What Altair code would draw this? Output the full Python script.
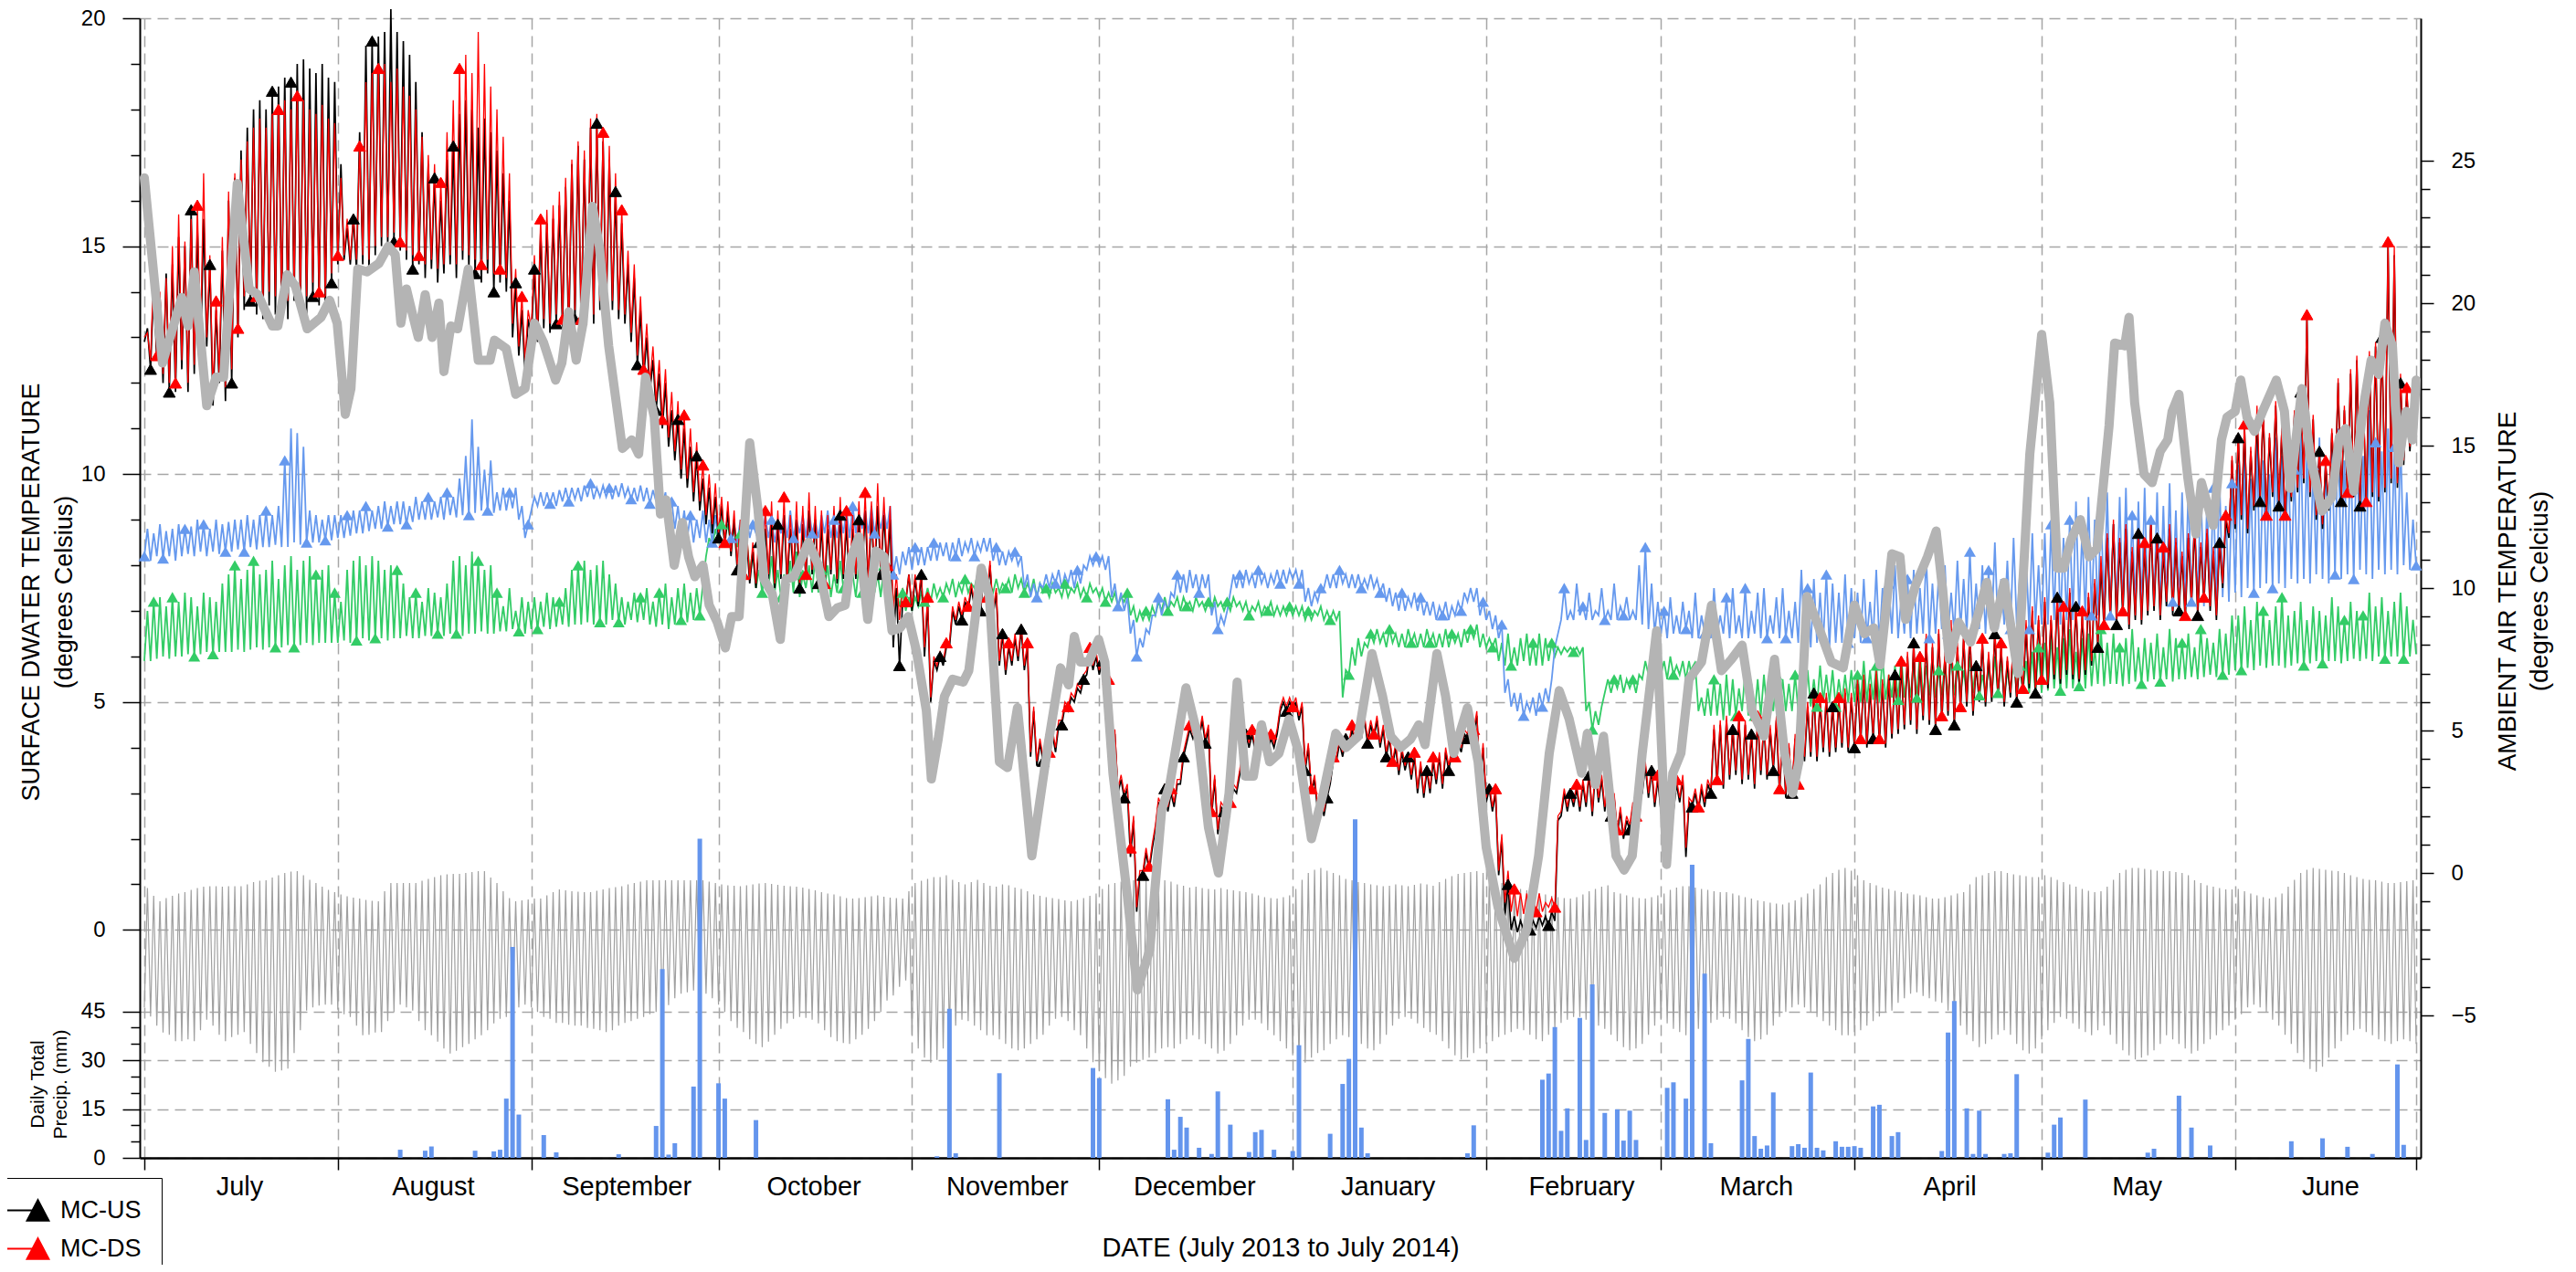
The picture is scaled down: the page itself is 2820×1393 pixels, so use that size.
import altair as alt
import pandas as pd

# ---------------- categories / axis labels ----------------
MONTHS = ["July", "August", "September", "October", "November", "December",
          "January", "February", "March", "April", "May", "June"]
MONTH_START = [0, 31, 62, 92, 123, 153, 184, 215, 243, 274, 304, 335]  # day index from 1 July 2013
LAST_DAY = 364

# ---------------- MC-US (black) daily low / high, per month ----------------
BLACK_LO = [
    [12.9,12.3,12.5,12.0,11.8,11.8,12.3,11.8,12.2,12.6,12.8,11.5,12.0,11.6,12.0,13.0,13.6,13.8,13.5,13.4,13.7,13.5,13.6,13.4,13.8,13.6,13.5,13.9,13.7,13.6,14.2],
    [14.6,14.7,14.6,14.5,14.6,14.5,14.8,15.0,15.0,15.1,14.9,14.7,14.5,14.6,14.3,14.5,14.2,14.4,14.6,14.3,14.7,14.5,14.4,14.2,14.4,14.0,14.2,14.0,13.0,12.6,12.2],
    [13.0,12.9,13.2,13.1,13.3,13.2,13.0,13.4,13.2,13.5,13.3,13.6,13.4,13.6,13.4,13.3,12.9,12.4,12.1,11.8,11.4,11.0,10.6,10.3,9.9,9.7,9.4,9.2,8.9,8.7],
    [8.6,8.4,8.2,7.9,7.7,7.6,7.5,7.6,7.7,7.5,7.7,7.6,7.8,7.5,7.7,7.8,7.6,7.5,7.8,7.6,7.7,7.5,7.7,7.8,7.6,7.7,7.8,7.9,6.2,5.8,7.2],
    [7.0,7.1,6.0,5.0,5.7,5.8,6.2,6.7,6.8,7.0,7.1,7.0,7.2,6.9,5.8,5.6,5.8,5.9,5.7,3.8,3.6,3.7,3.8,3.9,4.5,4.8,5.0,5.2,5.6,5.7],
    [5.6,5.0,3.4,3.0,2.9,1.6,0.4,1.2,1.3,2.2,2.6,2.6,2.7,3.2,4.1,4.2,4.2,4.1,2.5,2.1,2.6,2.7,3.0,3.9,4.0,3.9,4.0,3.9,4.0,4.8,4.8],
    [4.8,4.6,3.5,3.0,2.6,2.5,3.2,3.7,3.8,4.0,4.1,4.2,4.1,4.2,4.0,3.8,3.6,3.4,3.5,3.3,3.0,2.9,3.0,3.2,3.1,3.5,3.7,3.9,4.2,4.3,3.2],
    [2.8,2.6,1.2,0.3,0.0,-0.05,0.0,0.0,0.05,0.1,0.1,0.2,2.5,2.6,2.7,2.6,2.7,2.5,2.8,2.6,2.5,2.1,2.0,2.2,2.4,3.0,2.9,2.7],
    [2.6,2.7,2.6,2.8,1.6,2.7,2.6,2.7,3.0,3.2,3.1,3.3,3.4,3.2,3.3,3.1,3.4,3.3,3.5,3.0,2.9,3.0,3.1,3.7,3.8,3.7,3.9,3.8,3.9,4.0,3.9],
    [4.0,4.1,4.0,4.2,4.1,4.0,4.2,4.3,4.4,4.5,4.3,4.6,4.5,4.4,4.6,4.7,4.5,4.8,4.9,4.7,5.0,4.9,5.0,5.1,4.9,5.1,5.0,5.2,5.3,5.2],
    [5.4,5.3,5.5,5.4,5.6,5.5,5.4,5.6,5.8,6.2,6.6,6.8,6.7,6.9,6.6,6.8,6.7,6.9,7.0,6.8,7.1,6.9,7.0,6.8,7.1,6.9,7.2,7.0,6.8,7.5,8.6],
    [8.8,9.0,8.7,9.2,9.4,9.0,9.5,9.3,9.0,9.4,9.6,9.8,9.5,9.0,8.8,9.2,9.6,9.4,9.5,9.5,9.3,9.3,9.5,9.4,9.6,9.8,9.7,10.2,10.5,10.8],
]
BLACK_HI = [
    [13.2,14.2,13.9,14.4,14.6,15.2,15.0,15.8,15.4,15.6,14.6,13.6,14.9,16.0,16.5,17.1,17.6,18.0,18.2,18.0,18.4,18.5,18.7,18.6,19.0,19.1,18.9,18.8,19.0,18.7,18.6],
    [16.8,15.4,15.6,17.5,19.4,19.5,19.6,19.7,20.2,19.7,19.5,19.2,18.6,17.5,16.8,16.5,16.0,16.9,17.2,17.9,18.2,18.0,17.6,17.8,17.5,17.1,16.6,16.0,14.2,13.6,13.4],
    [14.5,15.3,15.5,15.6,15.9,16.3,16.8,17.2,16.9,17.6,17.7,17.3,16.9,16.2,15.5,14.6,14.3,13.6,13.0,12.5,12.2,12.0,11.4,11.2,11.0,10.6,10.4,9.9,9.7,9.5],
    [9.3,9.2,9.0,8.8,8.6,8.3,8.5,8.8,9.0,8.9,9.1,8.8,9.0,8.9,9.2,9.0,8.9,8.8,9.0,9.1,8.9,8.8,9.0,9.2,9.1,9.3,9.1,9.0,7.5,7.2,7.8],
    [7.7,7.8,7.2,5.9,6.0,6.2,7.0,7.1,7.2,7.5,7.6,7.8,8.0,7.4,6.5,6.2,6.4,6.6,6.2,4.8,4.1,4.2,4.3,4.5,4.9,5.1,5.3,5.5,6.1,6.0],
    [5.9,5.4,4.3,3.3,3.1,2.4,1.2,1.7,1.8,2.8,3.1,3.0,3.2,3.8,4.4,4.5,4.6,4.4,3.3,2.7,3.1,3.1,3.4,4.3,4.3,4.2,4.3,4.2,4.3,5.0,5.0],
    [5.0,4.9,4.0,3.3,3.0,2.9,3.7,4.1,4.2,4.4,4.5,4.6,4.5,4.6,4.4,4.2,4.0,3.9,3.8,3.8,3.6,3.5,3.7,3.8,3.9,3.9,4.1,4.3,4.6,4.7,4.0],
    [3.1,3.0,2.0,1.0,0.3,0.2,0.2,0.2,0.3,0.3,0.4,2.4,3.0,3.0,3.1,3.2,3.4,3.5,3.3,3.2,2.9,2.6,2.4,2.7,3.0,3.6,3.5,3.3],
    [3.2,3.1,3.2,3.3,2.8,3.0,3.1,3.2,4.4,4.5,4.6,4.4,4.6,4.5,4.3,4.6,4.5,4.4,4.6,4.3,4.0,4.2,4.4,4.9,5.2,5.0,5.1,4.9,5.0,5.2,5.1],
    [5.4,5.5,5.3,5.6,5.4,5.5,5.6,5.8,6.0,6.3,5.9,6.4,6.2,6.5,6.0,6.6,6.2,6.4,6.5,5.8,6.3,6.0,6.5,6.2,5.9,6.4,6.0,6.6,7.0,6.8],
    [7.2,6.8,7.3,7.0,7.4,7.1,6.9,7.3,7.6,8.0,8.6,8.9,8.5,8.8,8.3,8.7,8.4,8.9,8.6,8.3,8.8,8.5,8.2,8.6,8.9,8.4,8.7,8.3,8.5,9.0,10.3],
    [10.8,11.0,10.5,11.2,11.4,10.8,11.5,11.0,10.6,11.3,11.8,13.4,11.2,10.5,10.2,10.9,12.0,11.4,12.2,12.5,11.8,12.6,12.8,13.0,15.0,14.8,12.0,11.8,11.6,11.3],
]

# ---------------- MC-DS (red) daily low / high ----------------
RED_LO = [
    [13.0,12.5,12.6,12.2,12.0,12.0,12.5,12.0,12.4,12.8,13.0,11.8,12.2,11.9,12.3,13.2,13.9,14.1,13.9,13.8,14.0,13.9,14.0,13.8,14.1,14.0,13.9,14.2,14.0,13.9,14.4],
    [14.8,14.8,14.7,14.7,14.8,14.7,15.0,15.2,15.2,15.3,15.1,14.9,14.8,14.8,14.6,14.7,14.5,14.6,14.8,14.6,14.9,14.8,14.7,14.6,14.7,14.4,14.5,14.3,13.3,12.8,12.5],
    [13.2,13.1,13.4,13.3,13.5,13.4,13.2,13.6,13.4,13.7,13.5,13.8,13.6,13.8,13.6,13.5,13.1,12.6,12.3,12.0,11.6,11.2,10.8,10.5,10.1,9.9,9.6,9.4,9.1,8.9],
    [8.7,8.5,8.3,8.0,7.8,7.7,7.6,7.7,7.8,7.6,7.8,7.7,7.9,7.6,7.8,7.9,7.7,7.6,7.9,7.7,7.8,7.6,7.8,7.9,7.7,7.8,7.9,8.0,7.0,6.8,7.2],
    [7.1,7.2,6.2,5.1,5.8,5.9,6.3,6.8,6.9,7.1,7.2,7.1,7.3,7.0,5.9,5.7,5.9,6.0,5.8,3.9,3.7,3.8,3.9,4.0,4.6,4.9,5.1,5.3,5.7,5.8],
    [5.7,5.1,3.5,3.1,3.0,1.8,0.5,1.3,1.4,2.3,2.7,2.7,2.8,3.3,4.2,4.3,4.3,4.2,2.6,2.2,2.7,2.8,3.1,4.0,4.1,4.0,4.1,4.0,4.1,4.9,4.9],
    [4.9,4.7,3.6,3.1,2.7,2.6,3.3,3.8,3.9,4.1,4.2,4.3,4.2,4.3,4.1,3.9,3.7,3.5,3.6,3.4,3.1,3.0,3.1,3.3,3.2,3.6,3.8,4.0,4.3,4.4,3.3],
    [2.9,2.7,1.3,0.6,0.4,0.3,0.35,0.3,0.4,0.4,0.5,0.5,2.6,2.7,2.8,2.7,2.8,2.6,2.9,2.7,2.6,2.2,2.1,2.3,2.5,3.1,3.0,2.8],
    [2.7,2.8,2.7,2.9,1.8,2.8,2.7,2.8,3.1,3.3,3.2,3.4,3.5,3.3,3.4,3.2,3.5,3.4,3.6,3.1,3.0,3.1,3.2,3.8,3.9,3.8,4.0,3.9,4.0,4.1,4.0],
    [4.1,4.2,4.1,4.3,4.2,4.1,4.3,4.4,4.5,4.6,4.4,4.7,4.6,4.5,4.7,4.8,4.6,4.9,5.0,4.8,5.1,5.0,5.1,5.2,5.0,5.2,5.1,5.3,5.4,5.3],
    [5.5,5.4,5.6,5.5,5.7,5.6,5.5,5.7,5.9,6.3,6.7,6.9,6.8,7.0,6.7,6.9,6.8,7.0,7.1,6.9,7.2,7.0,7.1,6.9,7.2,7.0,7.3,7.1,6.9,7.6,8.7],
    [8.9,9.1,8.8,9.3,9.5,9.1,9.6,9.4,9.1,9.5,9.7,9.9,9.6,9.1,8.9,9.3,9.7,9.5,9.6,9.6,9.4,9.4,9.6,9.5,9.7,9.9,9.8,10.3,10.6,10.9],
]
RED_HI = [
    [13.1,14.5,14.0,14.3,15.0,15.7,15.1,15.6,15.9,16.6,14.8,13.8,15.2,16.2,16.6,16.9,17.3,17.6,17.8,17.6,17.9,18.0,18.2,18.0,18.3,18.2,18.0,17.9,18.1,17.8,17.7],
    [16.5,15.6,15.7,17.2,18.6,18.8,18.9,19.0,18.6,18.9,18.5,18.3,18.0,17.4,17.0,16.8,16.4,17.5,18.2,18.9,19.2,18.8,19.7,19.0,18.5,18.0,17.4,16.6,14.5,13.9,13.6],
    [14.8,15.6,15.8,15.9,16.2,16.5,16.9,17.3,17.1,17.8,17.9,17.5,17.2,16.6,15.8,14.9,14.6,13.9,13.3,12.8,12.5,12.3,11.8,11.6,11.3,11.0,10.7,10.2,10.0,9.8],
    [9.5,9.4,9.2,9.0,8.8,8.5,8.8,9.2,9.4,9.2,9.5,9.1,9.4,9.3,9.6,9.3,9.2,9.1,9.3,9.5,9.2,9.1,9.4,9.6,9.4,9.8,9.5,9.3,7.8,7.5,7.8],
    [7.8,7.9,7.3,6.0,6.1,6.3,7.1,7.2,7.3,7.6,7.7,7.9,8.1,7.5,6.6,6.3,6.5,6.7,6.3,4.9,4.2,4.3,4.4,4.6,5.0,5.2,5.4,5.6,6.2,6.1],
    [6.0,5.5,4.4,3.4,3.2,2.5,1.3,1.8,1.9,2.9,3.2,3.1,3.3,3.9,4.5,4.6,4.7,4.5,3.4,2.8,3.2,3.2,3.5,4.4,4.4,4.3,4.4,4.3,4.4,5.1,5.1],
    [5.1,5.0,4.1,3.4,3.1,3.0,3.8,4.2,4.3,4.5,4.6,4.7,4.6,4.7,4.5,4.3,4.1,4.0,3.9,3.9,3.7,3.6,3.8,3.9,4.0,4.0,4.2,4.4,4.7,4.8,4.1],
    [3.2,3.1,2.1,1.3,0.9,0.8,0.8,0.7,0.8,0.6,0.7,2.5,3.1,3.1,3.2,3.3,3.5,3.6,3.4,3.3,3.0,2.7,2.5,2.8,3.1,3.7,3.6,3.4],
    [3.3,3.2,3.3,3.4,2.9,3.1,3.2,3.3,4.5,4.6,4.7,4.5,4.7,4.6,4.4,4.7,4.6,4.5,4.7,4.4,4.1,4.3,4.5,5.0,5.3,5.1,5.2,5.0,5.1,5.3,5.2],
    [5.5,5.6,5.4,5.7,5.5,5.6,5.7,5.9,6.1,6.4,6.0,6.5,6.3,6.6,6.1,6.8,6.3,6.5,6.6,5.9,6.4,6.1,6.6,6.3,6.0,6.5,6.1,6.8,7.1,6.9],
    [7.3,6.9,7.4,7.1,7.5,7.2,7.0,7.4,7.7,8.2,8.7,9.0,8.6,8.9,8.4,8.8,8.5,9.0,8.7,8.4,8.9,8.6,8.3,8.7,9.0,8.5,8.8,8.4,8.6,9.1,10.4],
    [10.9,11.1,10.6,11.5,11.5,10.9,11.6,11.1,10.7,11.4,11.9,13.5,11.3,10.6,10.3,11.0,12.1,11.5,12.3,12.6,11.9,12.7,12.9,13.1,15.1,15.0,12.2,11.9,11.7,11.4],
]

# ---------------- blue site daily low / high ----------------
BLUE_LO = [
    [8.2,8.1,8.2,8.15,8.2,8.1,8.2,8.25,8.2,8.3,8.2,8.3,8.25,8.3,8.3,8.35,8.3,8.4,8.35,8.4,8.4,8.45,8.4,8.4,8.5,8.45,8.5,8.5,8.5,8.55,8.55],
    [8.6,8.6,8.65,8.7,8.7,8.75,8.8,8.8,8.85,8.9,8.9,8.9,8.95,9.0,9.0,9.0,9.05,9.0,9.1,9.05,9.1,9.1,9.15,9.2,9.2,9.15,9.2,9.2,9.25,9.0,8.6],
    [9.2,9.3,9.3,9.35,9.3,9.4,9.4,9.45,9.4,9.5,9.45,9.5,9.5,9.45,9.5,9.5,9.45,9.4,9.4,9.35,9.4,9.3,9.0,8.8,8.7,8.6,8.5,8.6,8.5,8.5],
    [8.5,8.6,8.6,8.5,8.6,8.6,8.7,8.6,8.6,8.5,8.7,8.6,8.6,8.7,8.6,8.7,8.6,8.7,8.6,8.6,8.7,8.6,8.7,8.8,8.7,8.7,8.8,8.8,7.8,7.8,8.0],
    [7.9,8.0,8.0,8.1,8.1,8.2,8.1,8.2,8.2,8.3,8.2,8.3,8.3,8.1,8.0,8.0,8.1,8.0,7.5,7.3,7.3,7.5,7.5,7.6,7.5,7.6,7.5,7.6,7.9,8.0],
    [8.0,7.9,7.3,7.1,7.0,6.5,6.0,6.2,6.5,6.9,6.9,7.0,7.3,7.4,7.4,7.5,7.4,7.5,6.9,6.6,6.7,7.4,7.5,7.5,7.6,7.5,7.6,7.5,7.6,7.6,7.6],
    [7.7,7.6,7.2,7.1,7.2,7.5,7.5,7.5,7.6,7.5,7.5,7.5,7.5,7.5,7.4,7.2,7.1,7.0,7.0,7.1,7.0,6.9,6.9,6.8,6.9,6.8,6.9,7.0,7.2,7.2,6.9],
    [6.8,6.6,6.4,5.2,4.9,4.8,4.7,4.8,4.7,4.9,5.0,6.2,6.8,6.8,6.8,6.9,6.8,6.8,6.9,6.8,6.8,6.8,6.9,6.8,6.8,6.7,6.6,6.5],
    [6.5,6.4,6.5,6.5,6.6,6.4,6.4,6.5,6.4,6.5,6.5,6.4,6.5,6.4,6.4,6.5,6.4,6.4,6.5,6.4,6.4,6.4,6.3,6.3,6.2,6.3,6.3,6.2,6.3,6.3,6.3],
    [6.4,6.3,6.4,6.4,6.3,6.4,6.5,6.4,6.5,6.4,6.5,6.5,6.4,6.5,6.6,6.5,6.5,6.6,6.5,6.6,6.6,6.5,6.6,6.6,6.7,6.6,6.7,6.7,6.6,6.7],
    [6.7,6.7,6.8,6.7,6.8,6.8,6.9,6.8,6.9,6.9,7.0,6.9,7.0,7.0,7.0,7.1,7.0,7.1,7.1,7.0,7.1,7.2,7.1,7.1,7.2,7.2,7.1,7.2,7.2,7.3,7.2],
    [7.4,7.3,7.5,7.4,7.5,7.6,7.5,7.6,7.5,7.7,7.6,7.7,7.6,7.8,7.7,7.6,7.8,7.7,7.8,7.7,7.9,7.8,7.7,7.9,7.8,7.9,7.8,8.0,7.9,8.0],
]
BLUE_HI = [
    [8.8,8.7,8.9,8.75,8.8,8.9,8.8,8.85,9.0,8.9,8.8,9.0,8.9,8.95,9.0,9.0,9.1,9.0,9.1,9.2,9.1,9.3,10.3,11.0,10.9,10.6,9.2,9.1,9.0,9.1,9.1],
    [9.1,9.1,9.2,9.2,9.3,9.2,9.3,9.4,9.3,9.4,9.4,9.3,9.5,9.4,9.5,9.4,9.5,9.6,9.5,9.9,10.4,11.2,10.6,10.1,10.3,9.6,9.7,9.6,9.7,9.3,8.9],
    [9.5,9.6,9.6,9.6,9.65,9.7,9.7,9.7,9.75,9.8,9.7,9.75,9.7,9.75,9.8,9.7,9.7,9.75,9.7,9.65,9.7,9.6,9.4,9.3,9.2,9.1,9.0,9.2,9.0,9.1],
    [9.0,9.1,8.9,9.0,9.1,8.9,9.0,9.1,9.0,8.9,9.1,9.2,9.0,9.1,9.2,9.0,9.1,9.2,9.0,9.1,9.2,9.3,9.1,9.2,9.3,9.1,9.2,9.3,8.2,8.3,8.4],
    [8.4,8.4,8.4,8.5,8.5,8.5,8.5,8.6,8.5,8.6,8.5,8.6,8.6,8.4,8.3,8.3,8.3,8.2,7.8,7.6,7.6,7.8,7.8,7.9,7.8,7.9,7.9,8.0,8.2,8.2],
    [8.2,8.2,7.6,7.4,7.3,6.8,6.4,6.6,6.9,7.3,7.2,7.4,7.8,7.8,7.9,7.8,7.8,7.8,7.2,6.9,7.0,7.8,7.8,7.9,7.8,7.9,7.8,7.8,7.9,7.9,7.9],
    [7.9,7.9,7.5,7.4,7.5,7.8,7.8,7.9,7.8,7.8,7.8,7.7,7.8,7.7,7.6,7.5,7.4,7.4,7.3,7.4,7.3,7.2,7.2,7.1,7.2,7.1,7.2,7.4,7.5,7.5,7.2],
    [7.0,6.9,6.7,5.5,5.2,5.2,5.0,5.1,5.2,5.3,5.5,6.5,7.5,7.0,7.6,7.1,7.4,7.0,7.5,7.0,7.6,7.1,7.3,7.0,8.0,8.4,7.6,7.2],
    [7.0,7.3,6.9,7.2,7.0,7.4,6.9,7.0,7.5,6.9,7.3,7.5,6.9,7.5,7.0,7.4,7.5,6.9,7.3,7.5,7.0,7.2,7.9,7.5,7.7,7.4,7.8,7.6,7.4,7.8,7.5],
    [7.4,7.7,7.2,7.9,7.5,7.6,8.0,7.3,7.7,7.9,7.5,8.2,7.6,7.8,8.0,7.4,8.1,7.7,8.3,7.6,8.0,7.9,8.5,7.7,8.1,8.6,7.8,8.2,8.7,8.0],
    [8.7,8.9,9.2,8.6,9.0,9.4,8.8,9.5,9.0,9.3,9.6,8.9,9.5,9.7,9.1,9.4,9.7,9.0,9.6,9.3,9.8,9.2,9.6,9.7,9.1,9.8,9.4,9.7,9.9,9.3,9.8],
    [10.2,10.5,9.9,10.7,10.3,10.0,10.8,10.4,10.6,10.1,10.9,10.5,10.2,10.8,10.4,10.7,11.0,10.3,10.6,10.9,10.4,11.4,10.7,10.5,11.0,10.6,10.8,9.6,9.0,8.9],
]

# ---------------- green site daily low / high ----------------
GREEN_LO = [
    [5.9,5.9,5.95,6.0,5.95,6.0,6.0,6.05,6.0,6.05,6.1,6.05,6.1,6.1,6.1,6.15,6.1,6.15,6.2,6.15,6.2,6.2,6.2,6.25,6.2,6.25,6.3,6.25,6.3,6.3,6.3],
    [6.3,6.35,6.3,6.35,6.4,6.35,6.4,6.4,6.35,6.4,6.4,6.45,6.4,6.4,6.45,6.45,6.5,6.45,6.5,6.5,6.45,6.5,6.5,6.55,6.5,6.5,6.55,6.55,6.6,6.55,6.5],
    [6.6,6.6,6.65,6.6,6.65,6.7,6.65,6.7,6.7,6.75,6.7,6.75,6.7,6.8,6.75,6.7,6.8,6.75,6.8,6.7,6.65,6.7,6.6,6.7,6.8,6.75,6.8,6.9,8.2,8.4],
    [8.5,8.6,8.5,8.4,8.3,7.9,7.5,7.4,7.5,7.4,7.3,7.5,7.4,7.3,7.5,7.4,7.4,7.5,7.3,7.4,7.5,7.4,7.3,7.4,7.5,7.4,7.3,7.4,7.2,7.1,7.0],
    [7.0,7.1,7.2,7.2,7.3,7.3,7.4,7.3,7.4,7.4,7.5,7.4,7.5,7.4,7.4,7.5,7.4,7.5,7.4,7.4,7.3,7.4,7.3,7.4,7.3,7.3,7.4,7.3,7.3,7.4],
    [7.3,7.2,7.2,7.1,7.2,6.9,6.75,6.8,6.8,6.9,7.0,7.0,7.1,7.0,7.1,7.0,7.1,7.0,7.0,7.1,7.0,7.0,7.1,7.0,6.9,7.0,6.9,7.0,6.9,6.9,6.9],
    [6.9,6.9,6.8,6.8,6.9,6.8,6.8,6.8,5.1,5.6,5.8,6.0,6.2,6.3,6.3,6.2,6.3,6.2,6.2,6.3,6.2,6.2,6.3,6.2,6.2,6.2,6.3,6.2,6.3,6.4,6.2],
    [6.2,6.2,5.9,5.8,5.8,5.8,5.9,5.8,5.8,5.8,5.9,6.0,6.05,6.1,6.1,6.05,4.8,4.4,4.5,5.2,5.2,5.3,5.2,5.3,5.2,5.5,5.6,5.5],
    [5.6,5.5,5.6,5.6,5.5,5.5,4.8,4.7,4.7,4.7,4.6,4.7,4.7,4.8,4.7,4.7,4.7,4.8,4.8,4.7,4.8,4.8,4.8,4.9,4.9,4.9,5.0,5.0,4.9,5.0,5.0],
    [5.0,5.0,5.0,5.05,5.0,5.05,5.1,5.05,5.1,5.1,5.1,5.1,5.15,5.1,5.15,5.1,5.15,5.2,5.15,5.2,5.15,5.2,5.2,5.2,5.15,5.2,5.2,5.25,5.2,5.2],
    [5.2,5.25,5.3,5.25,5.3,5.3,5.35,5.3,5.35,5.4,5.35,5.4,5.4,5.35,5.4,5.45,5.4,5.45,5.5,5.45,5.5,5.45,5.5,5.5,5.55,5.5,5.55,5.6,5.55,5.6,5.6],
    [5.7,5.7,5.75,5.7,5.8,5.75,5.8,5.8,5.75,5.8,5.85,5.8,5.85,5.9,5.85,5.9,5.9,5.85,5.9,5.95,5.9,5.95,5.9,6.0,5.95,6.0,6.0,5.95,6.0,6.05],
]
GREEN_HI = [
    [7.0,7.2,7.3,7.1,7.3,7.2,7.4,7.3,7.1,7.4,7.3,7.2,7.6,7.8,8.0,7.7,7.9,8.1,7.8,7.9,8.1,7.7,8.0,8.2,7.9,8.1,8.2,7.8,7.9,8.0,7.4],
    [7.2,7.9,8.1,8.2,8.0,8.2,8.1,7.9,8.0,7.9,7.6,7.3,7.4,7.2,7.5,7.4,7.3,7.6,8.1,8.2,8.0,8.3,8.1,7.9,8.0,7.4,7.1,7.5,7.0,7.3,7.2],
    [7.3,7.2,7.4,7.3,7.2,7.5,7.9,8.0,8.1,7.9,8.0,8.1,7.8,7.6,7.3,7.2,7.4,7.3,7.5,7.2,7.4,7.6,7.3,7.5,7.6,7.4,7.5,7.6,8.6,8.8],
    [8.9,8.9,8.8,8.7,8.6,8.3,7.9,8.0,8.2,7.9,7.8,8.1,8.3,7.8,8.0,8.2,7.9,8.0,7.8,8.1,7.9,7.8,8.0,7.7,7.9,7.8,8.0,7.7,7.5,7.4,7.3],
    [7.3,7.4,7.5,7.6,7.5,7.6,7.7,7.6,7.7,7.6,7.8,7.7,7.6,7.7,7.6,7.7,7.8,7.7,7.6,7.7,7.6,7.5,7.6,7.5,7.6,7.5,7.6,7.5,7.6,7.5],
    [7.5,7.4,7.4,7.3,7.4,7.1,7.0,7.0,7.1,7.2,7.3,7.2,7.3,7.3,7.2,7.3,7.2,7.2,7.3,7.2,7.2,7.3,7.2,7.2,7.1,7.2,7.1,7.2,7.1,7.1,7.1],
    [7.1,7.1,7.0,7.0,7.1,7.0,7.0,7.0,5.7,6.2,6.4,6.3,6.5,6.6,6.5,6.6,6.5,6.5,6.6,6.5,6.5,6.6,6.5,6.5,6.6,6.5,6.5,6.6,6.6,6.7,6.5],
    [6.4,6.4,6.3,6.5,6.2,6.4,6.5,6.3,6.5,6.4,6.3,6.2,6.2,6.2,6.2,6.2,5.0,4.8,4.9,5.5,5.5,5.6,5.5,5.5,5.6,5.9,5.9,5.8],
    [5.9,6.0,5.8,5.9,5.9,5.8,5.1,5.3,5.5,5.4,5.6,5.5,5.3,5.7,5.4,5.5,5.6,5.3,5.6,5.5,5.4,5.6,5.5,5.7,5.5,5.8,5.6,5.7,5.5,5.6,5.7],
    [5.6,5.9,5.7,5.8,6.0,5.6,5.8,6.0,5.7,5.9,6.1,5.8,6.0,5.7,5.9,6.1,5.8,5.7,6.0,5.9,5.6,5.8,6.0,5.9,5.7,6.0,5.8,5.9,6.1,6.2],
    [6.3,6.5,6.2,6.4,6.6,6.1,6.4,6.5,6.2,6.6,6.3,6.5,6.2,6.4,6.6,6.2,6.4,6.3,6.5,6.2,6.6,6.4,6.3,6.5,6.2,6.6,6.4,6.3,6.6,6.5,6.9],
    [6.9,7.1,6.8,7.2,7.0,6.8,7.1,7.3,6.9,7.0,7.2,6.8,7.1,7.0,6.9,7.3,7.1,6.8,7.2,7.0,6.9,7.4,7.1,7.3,7.0,7.2,7.4,7.1,6.8,6.9],
]

# ---------------- thin grey oscillating series (left scale) daily high / low ----------------
TIDE_HI = [
    [0.92,0.75,0.63,0.70,0.75,0.80,0.83,0.88,0.92,0.95,0.96,0.96,0.95,0.96,0.96,0.96,1.00,1.05,1.08,1.09,1.15,1.20,1.25,1.28,1.29,1.20,1.10,1.03,0.95,0.88,0.83],
    [0.78,0.74,0.71,0.69,0.66,0.64,0.63,0.85,1.03,1.03,1.03,1.03,1.03,1.08,1.12,1.16,1.20,1.22,1.23,1.23,1.25,1.27,1.29,1.29,1.15,1.03,0.85,0.70,0.63,0.65,0.67],
    [0.69,0.69,0.76,0.83,0.89,0.87,0.85,0.84,0.83,0.83,0.86,0.89,0.92,0.94,0.96,1.00,1.03,1.06,1.09,1.09,1.09,1.09,1.09,1.09,1.09,1.09,1.09,1.09,1.06,1.03],
    [1.00,0.98,0.97,0.96,0.98,1.00,1.02,1.03,1.01,0.99,0.97,0.96,0.95,0.93,0.90,0.87,0.83,0.80,0.78,0.74,0.70,0.69,0.70,0.72,0.74,0.76,0.73,0.71,0.70,0.69,0.85],
    [1.03,1.08,1.12,1.16,1.16,1.20,1.10,1.05,1.00,1.05,1.10,1.03,0.97,0.95,1.00,0.98,0.93,0.90,0.85,0.78,0.75,0.72,0.70,0.68,0.65,0.63,0.66,0.70,0.75,0.80],
    [0.90,1.00,1.03,1.06,1.09,1.09,1.06,1.09,1.05,1.03,1.09,1.06,1.00,0.97,0.93,0.95,0.92,0.90,0.89,0.92,0.89,0.87,0.85,0.83,0.80,0.76,0.72,0.70,0.69,0.72,0.76],
    [0.90,1.10,1.25,1.32,1.36,1.30,1.25,1.20,1.12,1.09,1.05,1.03,1.00,0.98,0.96,0.97,1.00,0.98,0.96,0.99,1.02,1.00,0.97,1.05,1.12,1.18,1.23,1.25,1.27,1.29,1.25],
    [1.20,1.10,1.03,0.98,0.95,0.90,0.87,0.85,0.80,0.78,0.75,0.72,0.70,0.69,0.72,0.78,0.85,0.90,0.95,0.98,0.83,0.80,0.76,0.72,0.70,0.69,0.72,0.76],
    [0.80,0.88,0.93,0.96,0.96,0.93,0.90,0.88,0.85,0.83,0.83,0.80,0.76,0.72,0.69,0.65,0.63,0.60,0.58,0.56,0.60,0.65,0.72,0.80,0.90,1.00,1.16,1.25,1.32,1.36,1.30],
    [1.20,1.09,1.03,0.98,0.93,0.90,0.86,0.83,0.80,0.78,0.76,0.72,0.69,0.69,0.72,0.76,0.80,0.83,1.00,1.16,1.20,1.25,1.29,1.29,1.25,1.22,1.20,1.18,1.16,1.16],
    [1.20,1.16,1.10,1.05,1.00,0.95,0.90,0.86,0.83,0.85,0.95,1.10,1.25,1.32,1.36,1.36,1.34,1.32,1.30,1.29,1.29,1.27,1.25,1.20,1.09,1.03,0.98,0.95,0.92,0.89,0.89],
    [0.90,0.85,0.80,0.76,0.72,0.69,0.72,0.80,0.95,1.10,1.25,1.32,1.36,1.34,1.32,1.30,1.29,1.25,1.20,1.16,1.12,1.10,1.09,1.06,1.03,1.03,1.05,1.07,1.09,1.10],
]
TIDE_LO = [
    [-1.7,-1.9,-2.1,-2.25,-2.3,-2.44,-2.44,-2.4,-2.44,-2.2,-1.97,-2.1,-2.3,-2.44,-2.35,-2.3,-2.24,-2.5,-2.7,-2.9,-3.0,-3.11,-3.08,-3.04,-2.7,-2.2,-1.77,-1.7,-1.66,-1.64,-1.64],
    [-1.75,-1.85,-1.91,-2.1,-2.31,-2.3,-2.25,-2.24,-2.0,-1.8,-1.64,-1.7,-1.77,-2.0,-2.2,-2.31,-2.45,-2.6,-2.71,-2.65,-2.57,-2.5,-2.4,-2.31,-2.2,-2.05,-1.95,-1.91,-1.8,-1.7,-1.64],
    [-1.7,-1.8,-1.91,-1.95,-2.04,-2.04,-2.08,-2.1,-2.1,-2.15,-2.17,-2.2,-2.24,-2.2,-2.1,-2.04,-2.0,-1.95,-1.91,-1.85,-1.8,-1.77,-1.65,-1.5,-1.4,-1.37,-1.33,-1.31,-1.4,-1.5],
    [-1.64,-1.8,-2.0,-2.15,-2.24,-2.4,-2.5,-2.57,-2.45,-2.3,-2.17,-2.05,-1.95,-1.91,-1.93,-1.97,-2.05,-2.2,-2.35,-2.44,-2.48,-2.5,-2.4,-2.3,-2.17,-2.0,-1.8,-1.55,-1.44,-1.25,-1.11],
    [-2.3,-2.6,-2.8,-2.91,-2.85,-2.6,-2.3,-2.1,-1.97,-2.0,-2.1,-2.2,-2.31,-2.31,-2.4,-2.5,-2.6,-2.64,-2.6,-2.5,-2.4,-2.3,-2.1,-1.95,-1.91,-2.0,-2.2,-2.31,-2.6,-2.9],
    [-3.1,-3.25,-3.37,-3.3,-3.2,-3.0,-2.91,-2.85,-2.8,-2.7,-2.6,-2.57,-2.6,-2.5,-2.4,-2.31,-2.4,-2.5,-2.6,-2.71,-2.65,-2.5,-2.31,-2.1,-1.97,-1.97,-2.05,-2.2,-2.31,-2.44,-2.6],
    [-2.75,-2.85,-2.91,-2.8,-2.7,-2.64,-2.5,-2.4,-2.31,-2.35,-2.4,-2.5,-2.6,-2.64,-2.5,-2.3,-2.1,-1.95,-1.91,-1.95,-2.05,-2.15,-2.24,-2.3,-2.44,-2.6,-2.75,-2.84,-2.8,-2.7,-2.6],
    [-2.5,-2.44,-2.35,-2.3,-2.24,-2.17,-2.2,-2.3,-2.4,-2.44,-2.3,-2.17,-2.04,-1.97,-1.91,-1.91,-1.97,-2.04,-2.1,-2.17,-2.3,-2.44,-2.57,-2.64,-2.6,-2.5,-2.3,-2.1],
    [-1.97,-2.05,-2.17,-2.24,-2.31,-2.24,-2.17,-2.1,-2.04,-1.97,-1.91,-1.95,-2.05,-2.2,-2.35,-2.44,-2.4,-2.3,-2.1,-1.91,-1.8,-1.7,-1.64,-1.7,-1.8,-1.91,-2.0,-2.1,-2.2,-2.31,-2.31],
    [-2.24,-2.2,-2.1,-2.0,-1.9,-1.8,-1.77,-1.6,-1.5,-1.4,-1.37,-1.45,-1.5,-1.57,-1.6,-1.77,-1.9,-2.1,-2.3,-2.44,-2.57,-2.5,-2.4,-2.3,-2.2,-2.3,-2.5,-2.64,-2.71,-2.6],
    [-2.4,-2.2,-2.04,-1.91,-1.95,-2.05,-2.17,-2.24,-2.31,-2.2,-2.1,-2.3,-2.5,-2.64,-2.75,-2.84,-2.8,-2.75,-2.64,-2.5,-2.31,-2.4,-2.5,-2.6,-2.71,-2.65,-2.5,-2.4,-2.31,-2.2,-2.1],
    [-1.97,-1.85,-1.7,-1.64,-1.7,-1.8,-1.97,-2.1,-2.3,-2.5,-2.7,-2.9,-3.05,-3.11,-3.0,-2.8,-2.6,-2.44,-2.3,-2.2,-2.17,-2.24,-2.31,-2.4,-2.44,-2.5,-2.44,-2.4,-2.44,-2.5],
]

# ---------------- ambient air temperature (right axis) ----------------
AIR_DAY = [0,2.9,6,7,8,10,11.5,12.7,14.9,16.8,18.2,20.5,21.4,22.9,24.2,26.1,28.3,29.7,30.9,32.2,33.1,34.2,35.7,37.6,39.1,40.2,41.1,42.0,43.1,43.9,45,46.1,47.2,48,49.1,50.2,51.9,53.5,55.4,56.1,58,59.5,61,62.5,64,65.9,66.9,68,69.2,70.3,71.8,72.9,74.4,76.6,78.1,79.2,80.3,81.7,82.7,83.6,84.9,86.2,87.2,88.2,89.5,90.5,91.8,93.1,94.1,95.3,97,98.3,99.3,100.6,101.9,102.8,104.1,106.4,108,109.7,111,112.3,113.3,114.5,115.9,117.2,118.5,119.8,121.1,122.4,123.7,125.3,126.1,127.2,128.2,129.5,131.2,132.1,134.1,135.4,137,138.3,139.9,142.2,144.8,146.8,148.1,149,150,151.3,152.9,153.9,155.2,157.5,159.1,161.1,163,164.3,166.9,168.9,170.5,172.1,173.8,175.1,176.4,177.7,179,180.3,181.8,183.4,185,187,188.9,190.9,192.5,194.5,196.7,198.4,199.7,201.3,202.9,204.2,205.2,207.1,208.5,209.8,212,213.7,215,216.9,219.5,221.5,223.4,225.1,226.7,228.3,230.3,231.2,232.5,233.8,235.8,237.1,238.4,240,242.3,243.9,244.9,246.2,247.5,249.5,251.1,252.7,254.3,256,257.6,259.5,261.2,262.8,264.1,265.1,266.4,268,270.3,272.2,274,275.6,277.1,278.1,280,281.3,282.2,283.8,285.7,287.1,288.2,289.2,290.7,292.6,295.2,296.4,298,300.2,302.1,304,305.3,306.5,307.5,308.7,310.2,311.6,312.9,314.8,315.7,317.3,318,318.9,320.4,321.7,323,324.2,324.9,326,327.4,328.7,329.6,331.5,332.8,333.7,335,335.9,336.9,338.1,339.4,341.6,342.9,343.8,345.7,347,348.9,350.5,351.7,352.7,354,355.5,356.8,358,359,360.2,361.2,362.4,363.4,364]
AIR_T = [24.4,17.9,20.2,19.2,21.1,16.4,17.4,17.4,24.2,20.5,20.3,19.2,19.2,21.0,20.6,19.1,19.5,20.1,19.3,16.1,17.0,21.2,21.1,21.4,22.0,21.7,19.3,20.5,19.5,18.8,20.3,18.8,20.0,17.6,19.2,19.1,21.2,18.0,18.0,18.7,18.4,16.8,17.0,19.3,18.6,17.3,17.9,19.7,18.0,19.3,23.4,22.0,18.5,14.9,15.2,14.7,17.4,16.0,12.6,13.1,10.8,12.3,11.1,10.4,10.8,9.4,8.8,7.9,9.0,9.0,15.1,12.8,10.3,9.8,8.2,10.3,10.4,11.6,10.8,9.0,9.3,9.4,11.1,11.8,8.9,11.3,11.1,8.5,8.6,9.0,7.8,5.7,3.3,4.7,6.2,6.8,6.7,7.1,10.7,9.7,3.9,3.7,5.8,0.6,4.5,7.2,6.6,8.3,7.4,7.4,8.2,7.4,3.5,-0.8,-4.1,-2.7,2.2,3.1,6.5,4.7,1.6,0.0,2.8,6.7,3.4,3.4,5.2,3.9,4.2,5.4,4.2,1.2,2.8,4.9,4.4,4.8,7.7,6.2,4.8,4.4,4.7,5.2,4.5,7.7,6.2,4.2,5.8,3.9,0.9,-1.2,-3.0,-2.0,0.6,4.2,6.4,5.4,3.5,4.9,3.1,4.8,0.6,0.1,0.6,4.2,8.5,0.3,3.5,4.2,6.8,7.4,9.4,7.1,7.5,8.0,5.7,4.8,7.5,4.2,2.8,3.9,9.7,8.8,7.4,7.2,9.4,8.4,8.6,7.3,11.2,11.1,8.9,10.1,11.1,12.0,9.8,7.5,8.8,8.1,10.2,8.6,10.2,7.0,14.7,18.9,16.5,10.7,10.7,11.7,12.4,11.1,11.4,15.7,18.6,18.5,19.5,16.5,14.0,13.7,14.8,15.2,16.2,16.8,13.9,11.9,13.7,12.2,15.2,16.0,16.2,17.3,16.0,15.5,16.2,17.3,16.2,13.5,17.0,14.7,12.7,13.2,15.3,15.6,13.4,16.3,18.0,17.5,19.3,18.5,14.4,16.2,15.2,17.3]

# ---------------- daily total precipitation (mm) ----------------
RAIN_DAY = [41,45,46,53,56,57,58,59,60,64,66,76,82,83,84,85,88,89,92,93,98,127,129,130,137,152,153,164,165,166,167,169,171,172,174,177,178,179,181,184,185,190,192,193,194,195,196,212,213,224,225,226,227,228,230,231,232,234,236,237,238,239,244,245,247,248,250,251,256,257,258,259,260,261,264,265,266,267,268,269,271,272,273,274,275,277,278,280,281,288,289,290,292,293,294,295,298,299,300,305,306,307,311,321,322,326,328,331,344,349,353,357,361,362]
RAIN_MM = [2.5,2.2,3.5,2.2,2.0,2.5,18.2,64.8,13.3,7.0,1.7,1.1,9.8,58,1.0,4.5,21.9,98,22.9,18.2,11.6,0.5,45.8,1.4,26,27.6,24.5,18,2.5,12.6,9.3,3.1,1.2,20.4,10.2,1.8,7.9,8.6,2.5,2.1,34.6,7.4,22.7,30.4,104,9.3,1.4,1.4,10,24,25.9,40.2,8.3,15.2,43,5.5,53.3,13.8,14.9,5.3,14.5,5.5,21.5,23.2,18.2,90,56.6,4.5,23.8,36.5,6.7,2.8,3.8,20.1,3.6,4.2,3.1,26.2,3.1,2.3,5.1,3.4,3.4,3.6,3.1,15.8,16.3,6.7,7.9,2.1,38.5,48.2,15.2,1.2,14.5,1.2,1.2,1.4,25.7,1.6,10.2,12.4,17.9,1.6,2.8,19.1,9.3,3.8,5.1,6.0,3.4,1.2,28.7,4.0]

# ---------------- helpers to build tables ----------------
def monthly(months):
    days, vals = [], []
    for m, vals_m in enumerate(months):
        for i, v in enumerate(vals_m):
            d = MONTH_START[m] + i
            if d <= LAST_DAY:
                days.append(d)
                vals.append(v)
    return days, vals


def zigzag(lo_months, hi_months, name):
    d_lo, v_lo = monthly(lo_months)
    d_hi, v_hi = monthly(hi_months)
    hi_map = dict(zip(d_hi, v_hi))
    rows = []
    for d, v in zip(d_lo, v_lo):
        rows.append({"day": d, "T": v, "site": name})
        if d in hi_map and d + 0.5 <= LAST_DAY:
            rows.append({"day": d + 0.5, "T": hi_map[d], "site": name})
    df = pd.DataFrame(rows)
    df["idx"] = range(len(df))
    return df


def marks_of(df, k):
    r = df["idx"] % 13
    return df[(r == k) | (r == k + 6)]


tide = zigzag(TIDE_LO, TIDE_HI, "tide")
black = zigzag(BLACK_LO, BLACK_HI, "MC-US")
red = zigzag(RED_LO, RED_HI, "MC-DS")
blue = zigzag(BLUE_LO, BLUE_HI, "blue")
green = zigzag(GREEN_LO, GREEN_HI, "green")
air = pd.DataFrame({"day": AIR_DAY, "A": AIR_T})
rain = pd.DataFrame({"day": RAIN_DAY, "P": RAIN_MM})
mc_marks = pd.concat([marks_of(black, 2), marks_of(red, 4)])

# ---------------- scales / axes ----------------
FONT = "Liberation Sans"
x_scale = alt.Scale(domain=[0, LAST_DAY], nice=False, zero=False)
t_scale = alt.Scale(domain=[-5, 20], nice=False, zero=False)
p_scale = alt.Scale(domain=[0, 350], nice=False, zero=False)
a_scale = alt.Scale(domain=[-10, 30], nice=False, zero=False)
GRID = dict(grid=True, gridDash=[12, 7], gridColor="#A6A6A6", gridWidth=1.5)

month_vals = MONTH_START + [LAST_DAY]
label_expr = ("[" + ",".join("'%s'" % m for m in MONTHS) + ",''][indexof(["
              + ",".join(str(v) for v in month_vals) + "], datum.value)]")

x_axis = alt.Axis(orient="bottom", values=month_vals, labelExpr=label_expr, labelOffset=104,
                  labelFontSize=29, labelPadding=4, labelFlush=False, labelOverlap=False,
                  tickSize=13, tickWidth=1.5, domainWidth=2.5,
                  title="DATE (July 2013 to July 2014)", titleFontSize=29,
                  titlePadding=38, titleFontWeight="normal", **GRID)
t_axis = alt.Axis(orient="left", values=[0, 5, 10, 15, 20], tickSize=19, tickWidth=1.5,
                  domainWidth=2, labelFontSize=24, labelPadding=19, labelFlush=False,
                  title=["SURFACE DWATER TEMPERATURE", "(degrees Celsius)"],
                  titleFontSize=27, titleFontWeight="normal", titleLineHeight=36,
                  titleAngle=270, titleBaseline="bottom", titlePadding=4, titleY=628, **GRID)
p_axis = alt.Axis(orient="left", values=[0, 15, 30, 45], tickSize=19, tickWidth=1.5,
                  domain=False, labelFontSize=24, labelPadding=19, labelFlush=False,
                  title=["Daily Total", "Precip. (mm)"], titleFontSize=21,
                  titleFontWeight="normal", titleLineHeight=25, titleAngle=270,
                  titleBaseline="bottom", titlePadding=12, titleY=1167, **GRID)
a_axis = alt.Axis(orient="right", values=[-5, 0, 5, 10, 15, 20, 25], tickSize=14, tickWidth=1.5,
                  domainWidth=2, labelFontSize=24, labelPadding=19, labelFlush=False, grid=False,
                  title=["AMBIENT AIR TEMPERATURE", "(degrees Celcius)"], titleFontSize=28,
                  titleFontWeight="normal", titleLineHeight=35, titleAngle=270,
                  titleBaseline="top", titleX=81, titleY=627)


def minor_axis(orient, vals):
    return alt.Axis(orient=orient, values=vals, tickSize=10, tickWidth=1.5, labels=False,
                    domain=False, grid=False, title=None)


# every layer carries the same x axis definition so the shared axis merges cleanly
X_FULL = alt.X("day:Q", scale=x_scale, axis=x_axis)

# ---------------- layers ----------------
tide_layer = alt.Chart(tide).mark_line(color="#A0A0A0", strokeWidth=1.2).encode(
    x=X_FULL, y=alt.Y("T:Q", scale=t_scale, axis=t_axis))

rain_layer = alt.Chart(rain).mark_bar(color="#6495ED", size=5).encode(
    x=X_FULL, y=alt.Y("P:Q", scale=p_scale, axis=p_axis))


def water_line(df, color, width):
    return alt.Chart(df).mark_line(color=color, strokeWidth=width).encode(
        x=X_FULL, y=alt.Y("T:Q", scale=t_scale, axis=None))


def water_marks(df, color):
    return alt.Chart(df).mark_point(shape="triangle-up", filled=True, size=170, opacity=1,
                                    color=color).encode(
        x=X_FULL, y=alt.Y("T:Q", scale=t_scale, axis=None))


green_line = water_line(green, "#33CC66", 1.8)
blue_line = water_line(blue, "#6699EE", 1.8)
black_line = water_line(black, "#000000", 1.7)
red_line = water_line(red, "#FF0000", 1.3)
green_pts = water_marks(marks_of(green, 3), "#33CC66")
blue_pts = water_marks(marks_of(blue, 0), "#6699EE")

site_scale = alt.Scale(domain=["MC-US", "MC-DS"], range=["#000000", "#FF0000"])
LEG = alt.Legend(title=None, orient="none", legendX=-158, legendY=1270,
                 symbolType="M -3.6 0 L 0 0 M 0 -0.9 L 0.95 0.9 L -0.95 0.9 Z",
                 symbolSize=625, symbolStrokeWidth=2, symbolOpacity=1,
                 labelFont=FONT, labelFontSize=27, labelColor="black",
                 padding=22, rowPadding=11, strokeColor="black", fillColor="white",
                 symbolOffset=11, labelOffset=11)
mc_pts = alt.Chart(mc_marks).mark_point(shape="triangle-up", filled=True, size=170,
                                        opacity=1, strokeWidth=1).encode(
    x=X_FULL, y=alt.Y("T:Q", scale=t_scale, axis=None),
    fill=alt.Fill("site:N", scale=site_scale, legend=LEG),
    stroke=alt.Stroke("site:N", scale=site_scale, legend=LEG))

air_layer = alt.Chart(air).mark_line(color="#B4B4B4", strokeWidth=10, strokeCap="round",
                                     strokeJoin="round").encode(
    x=X_FULL, y=alt.Y("A:Q", scale=a_scale, axis=a_axis))

T_MINOR = [v for v in range(1, 20) if v % 5]
P_MINOR = [5, 10, 20, 25, 35, 40]
A_MINOR = [v for v in range(-4, 25) if v % 5]
t_minor = alt.Chart(pd.DataFrame({"v": T_MINOR})).mark_point(opacity=0).encode(
    y=alt.Y("v:Q", scale=t_scale, axis=minor_axis("left", T_MINOR)))
p_minor = alt.Chart(pd.DataFrame({"v": P_MINOR})).mark_point(opacity=0).encode(
    y=alt.Y("v:Q", scale=p_scale, axis=minor_axis("left", P_MINOR)))
a_minor = alt.Chart(pd.DataFrame({"v": A_MINOR})).mark_point(opacity=0).encode(
    y=alt.Y("v:Q", scale=a_scale, axis=minor_axis("right", A_MINOR)))

chart = alt.layer(
    tide_layer, rain_layer, green_line, blue_line, black_line, red_line,
    green_pts, blue_pts, mc_pts, air_layer, t_minor, p_minor, a_minor
).resolve_scale(y="independent").properties(
    width=2497, height=1248,
    padding={"left": 145, "top": 12, "right": 162, "bottom": 117},
    autosize=alt.AutoSizeParams(type="none"),
).configure_view(stroke=None).configure_axis(
    labelFont=FONT, titleFont=FONT, labelColor="black", titleColor="black",
    tickColor="black", domainColor="black")

chart.save("out.html", embed_options={"renderer": "svg", "actions": False})
